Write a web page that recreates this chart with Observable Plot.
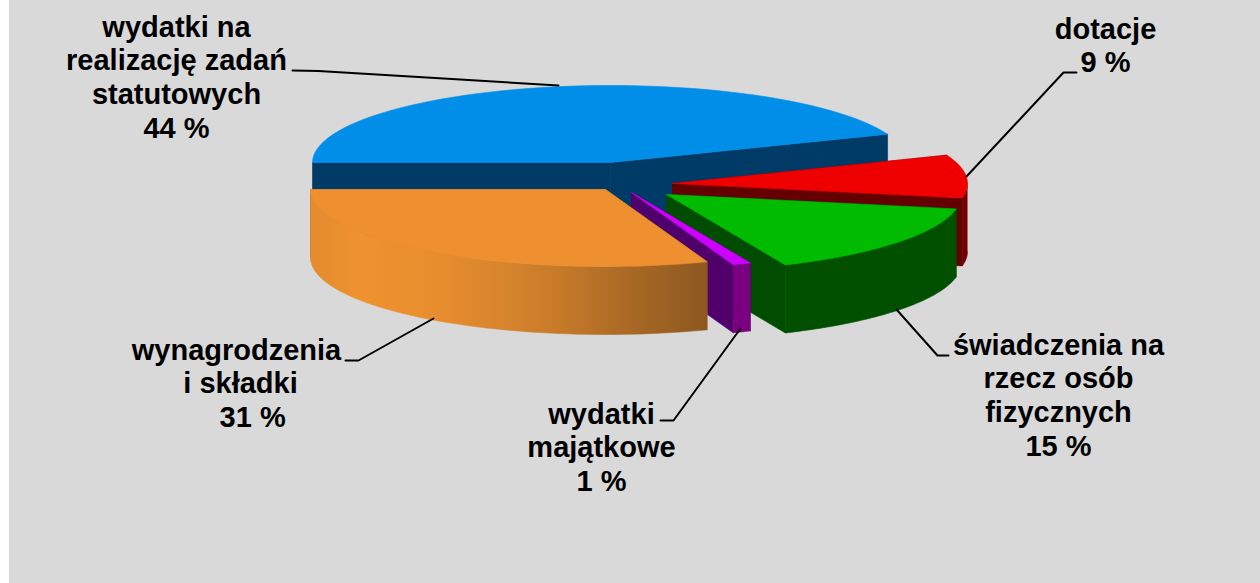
<!DOCTYPE html>
<html>
<head>
<meta charset="utf-8">
<style>html,body{margin:0;padding:0;background:#fff}svg{display:block}</style>
<script src="https://cdn.jsdelivr.net/npm/d3@7"></script>
<script src="https://cdn.jsdelivr.net/npm/@observablehq/plot@0.6"></script>
</head>
<body>
<div id="chart"></div>
<script>
// Data
const categories = ["wydatki na realizację zadań statutowych", "dotacje", "świadczenia na rzecz osób fizycznych", "wydatki majątkowe", "wynagrodzenia i składki"];
const shares = [44, 9, 15.4, 1, 30.6];
const labelTexts = [
  "wydatki na\nrealizację zadań\nstatutowych\n44 %",
  "dotacje\n9 %",
  "świadczenia na\nrzecz osób\nfizycznych\n15 %",
  "wydatki\nmajątkowe\n1 %",
  "wynagrodzenia\n\u00A0i składki\n\u00A0\u00A0\u00A0\u00A031 %"
];
// Styles
const topColors = ["#008ee9", "#ee0000", "#00bb00", "#cc00ff", "#ee9030"];
const innerColors = ["#003a66", "#640000", "#004c00", "#50006a", "#a06020"];
const outerColors = ["#003a66", "#700000", "#005000", "#7a0082", "url(#orangeWall)"];
const drawOrder = [0, 1, 2, 3, 4];
// Layout
const W = 1260, H = 583, RY = 77, DEPTH = 68;
const radiusX = [298, 295, 295, 295, 295];
const apexX = [610, 672, 666, 631, 605];
const apexY = [162, 183, 194, 192, 189];
const FS = 29, LH = 34;
const labelX = [176, 1105, 1058, 601, 236];
const labelBaseline = [36, 38, 354, 423, 359];
const labelY = labelBaseline.map(b => b - 0.71 * LH);
const leaders = [
  [[292, 70], [318, 70.5], [558, 85]],
  [[1076, 72], [1063, 72], [966, 176]],
  [[896, 309], [937, 355], [948, 355]],
  [[740, 328], [673, 420], [660, 420]],
  [[433, 318], [358, 360], [345, 360]]
];

const pie = d3.pie().sort(null).startAngle(-Math.PI / 2).endAngle(3 * Math.PI / 2)(shares);
const pt = (i, a, dy = 0) => ({x: apexX[i] + radiusX[i] * Math.sin(a), y: apexY[i] - RY * Math.cos(a) + dy});
const arcPts = (i, a0, a1, dy = 0) => d3.range(0, 61).map(k => pt(i, a0 + (a1 - a0) * k / 60, dy));
const apex = (i, dy = 0) => ({x: apexX[i], y: apexY[i] + dy});
const face = (pts, fill) => Plot.line(pts, {x: "x", y: "y", fill, stroke: fill, strokeWidth: 0.6, curve: "linear"});

const sliceMarks = drawOrder.flatMap(i => {
  const {startAngle: a0, endAngle: a1} = pie[i];
  const marks = [
    face([apex(i), pt(i, a0), pt(i, a0, DEPTH), apex(i, DEPTH), apex(i)], innerColors[i]),
    face([apex(i), pt(i, a1), pt(i, a1, DEPTH), apex(i, DEPTH), apex(i)], innerColors[i])
  ];
  const f0 = Math.max(a0, Math.PI / 2), f1 = Math.min(a1, 3 * Math.PI / 2);
  if (f1 > f0) marks.push(face([...arcPts(i, f0, f1), ...arcPts(i, f1, f0, DEPTH)], outerColors[i]));
  marks.push(face([apex(i), ...arcPts(i, a0, a1), apex(i)], topColors[i]));
  return marks;
});

const defs = () => {
  const d = d3.create("svg:defs");
  const g = d.append("linearGradient").attr("id", "orangeWall").attr("x1", 0).attr("x2", 1).attr("y1", 0).attr("y2", 0);
  [[0, "#e28b2e"], [0.12, "#ef9230"], [0.3, "#e98e2e"], [0.48, "#d8852d"], [0.63, "#c67a29"], [0.78, "#ad6b26"], [1, "#8d5820"]]
    .forEach(([o, c]) => g.append("stop").attr("offset", o).attr("stop-color", c));
  return d.node();
};

const rows = labelTexts.map((text, i) => ({text, x: labelX[i], y: labelY[i]}));

const chart = Plot.plot({
  width: W, height: H, margin: 0,
  x: {domain: [0, W], range: [0, W], axis: null},
  y: {domain: [0, H], range: [0, H], axis: null},
  style: {background: "#fff"},
  marks: [
    defs,
    Plot.rect([{}], {x1: () => 9, x2: () => W, y1: () => 0, y2: () => H, fill: "#d9d9d9"}),
    ...sliceMarks,
    ...leaders.map(l => Plot.line(l, {x: d => d[0], y: d => d[1], stroke: "#000", strokeWidth: 2, curve: "linear"})),
    Plot.text(rows, {x: "x", y: "y", text: "text", textAnchor: "middle", lineAnchor: "top", lineHeight: LH / FS,
      fontFamily: "'Liberation Sans', Arial, sans-serif", fontWeight: 700, fontSize: FS, fill: "#000"})
  ]
});
document.getElementById("chart").append(chart);
</script>
</body>
</html>
